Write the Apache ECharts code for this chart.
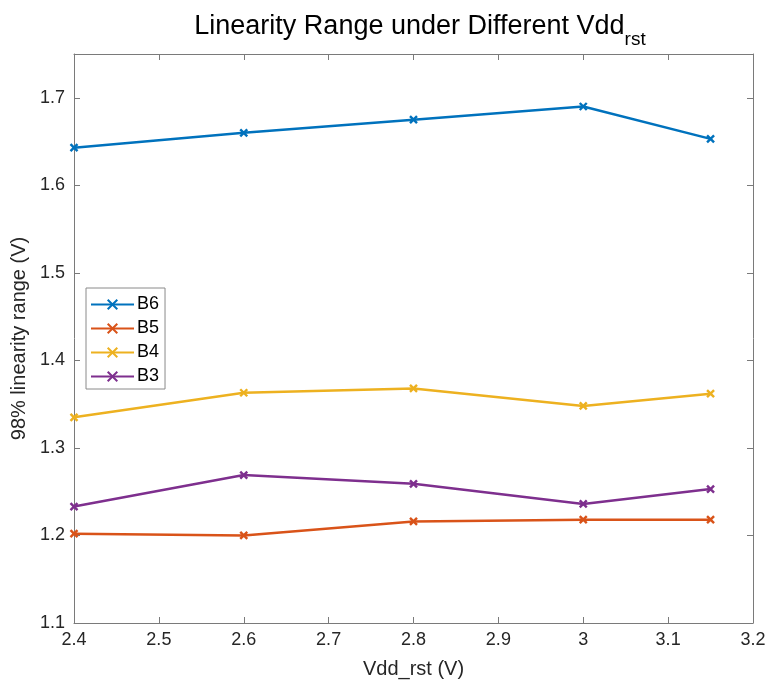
<!DOCTYPE html>
<html>
<head>
<meta charset="utf-8">
<script src="https://cdn.jsdelivr.net/npm/echarts@6/dist/echarts.min.js"></script>
<style>
  html, body { margin: 0; padding: 0; background: #fff; }
  #chart { width: 769px; height: 684px; }
</style>
</head>
<body>
<div id="chart"></div>
<script>
// Supply voltage sweep (V)
const vddRst = [2.4, 2.6, 2.8, 3.0, 3.15];
// 98% linearity range (V) per bit configuration
const b6 = [1.643, 1.660, 1.675, 1.690, 1.653];
const b5 = [1.202, 1.200, 1.216, 1.218, 1.218];
const b4 = [1.335, 1.363, 1.368, 1.348, 1.362];
const b3 = [1.233, 1.269, 1.259, 1.236, 1.253];
const seriesNames = ['B6', 'B5', 'B4', 'B3'];
const seriesColors = ['#0072BD', '#D95319', '#EDB120', '#7E2F8E'];

const FONT = "'Liberation Sans', Arial, sans-serif";
const AXIS_GRAY = '#7a7a7a';
const TEXT = '#262626';
const crossMark = 'path://M0,0L10,10M10,0L0,10';

const chart = echarts.init(document.getElementById('chart'), null, { renderer: 'canvas' });

const pairs = ys => vddRst.map((x, i) => [x, ys[i]]);
const allData = [b6, b5, b4, b3];

const onTenth = v => Math.abs(v * 10 - Math.round(v * 10)) < 1e-6;

const tickAxis = (extra) => Object.assign({
  type: 'value',
  axisLine: { show: true, lineStyle: { color: AXIS_GRAY, width: 1 } },
  axisTick: { show: true, inside: true, length: 6, lineStyle: { color: AXIS_GRAY } },
  splitLine: { show: false }
}, extra);

const option = {
  animation: false,
  backgroundColor: '#ffffff',
  textStyle: { fontFamily: FONT },
  title: {
    text: '{m|Linearity Range under Different Vdd}{s|rst}',
    left: 415,
    textAlign: 'center',
    top: 3,
    textStyle: {
      fontWeight: 'normal',
      rich: {
        m: { fontFamily: FONT, fontSize: 27, fontWeight: 'normal', color: '#000', verticalAlign: 'bottom', lineHeight: 32 },
        s: { fontFamily: FONT, fontSize: 19, fontWeight: 'normal', color: '#000', verticalAlign: 'bottom', lineHeight: 20, padding: [0, 0, -9, 0] }
      }
    }
  },
  grid: { left: 74, right: 16, top: 54, bottom: 61, containLabel: false },
  legend: {
    orient: 'vertical',
    left: 86,
    top: 288,
    data: seriesNames,
    itemWidth: 43,
    itemHeight: 12,
    itemGap: 5,
    padding: [7, 6, 3, 4],
    borderColor: '#8a8a8a',
    borderWidth: 1,
    backgroundColor: '#fff',
    textStyle: { fontFamily: FONT, fontSize: 18, lineHeight: 19, color: '#000', padding: [0, 0, 0, -2] }
  },
  xAxis: [tickAxis({
    min: 2.4, max: 3.2, interval: 0.1,
    name: 'Vdd_rst (V)',
    nameLocation: 'middle',
    nameGap: 36,
    nameTextStyle: { fontFamily: FONT, fontSize: 20, color: TEXT },
    axisLabel: { fontFamily: FONT, fontSize: 18, color: TEXT, margin: 8 }
  }), tickAxis({
    position: 'top',
    min: 2.4, max: 3.2, interval: 0.1,
    axisLabel: { show: false }
  })],
  yAxis: [tickAxis({
    min: 1.1, max: 1.75, interval: 0.1,
    name: '98% linearity range (V)',
    nameLocation: 'middle',
    nameGap: 40,
    nameRotate: 90,
    nameTextStyle: { fontFamily: FONT, fontSize: 20, color: TEXT },
    axisLabel: {
      fontFamily: FONT, fontSize: 18, color: TEXT, margin: 9,
      formatter: v => onTenth(v) ? v.toFixed(1) : ''
    }
  }), tickAxis({
    position: 'right',
    min: 1.1, max: 1.75, interval: 0.1,
    axisLabel: { show: false }
  })],
  series: seriesNames.map((name, i) => ({
    name,
    type: 'line',
    xAxisIndex: 0,
    yAxisIndex: 0,
    data: pairs(allData[i]),
    symbol: crossMark,
    symbolSize: 7,
    showAllSymbol: true,
    lineStyle: { color: seriesColors[i], width: 2.5 },
    itemStyle: { color: seriesColors[i], borderColor: seriesColors[i], borderWidth: 2.4 },
    emphasis: { disabled: true }
  }))
};

chart.setOption(option);
</script>
</body>
</html>
